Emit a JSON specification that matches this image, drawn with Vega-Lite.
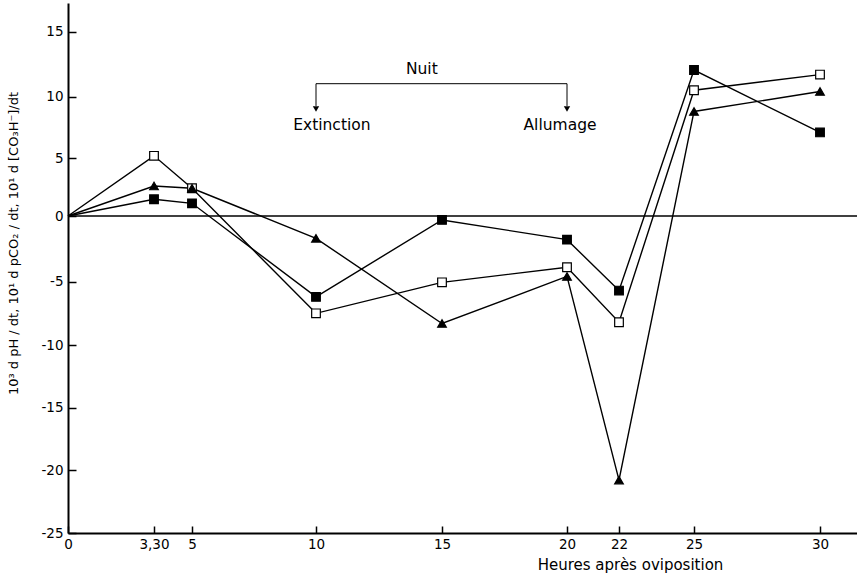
{
  "$schema": "https://vega.github.io/schema/vega-lite/v6.json",
  "width": 789,
  "height": 530,
  "autosize": {"type": "none"},
  "padding": {"left": 68, "top": 3, "right": 0, "bottom": 43},
  "background": "white",
  "config": {
    "view": {"stroke": null},
    "font": "DejaVu Sans",
    "axis": {
      "grid": false,
      "domainColor": "black",
      "domainWidth": 2,
      "tickColor": "black",
      "tickWidth": 1.5,
      "labelColor": "black",
      "titleColor": "black",
      "labelFont": "DejaVu Sans",
      "titleFont": "DejaVu Sans"
    }
  },
  "datasets": {
    "series": [
      {"serie": "ouvert", "h": 0, "v": 0},
      {"serie": "ouvert", "h": 3.5, "v": 5.2},
      {"serie": "ouvert", "h": 5, "v": 2.4},
      {"serie": "ouvert", "h": 10, "v": -7.5},
      {"serie": "ouvert", "h": 15, "v": -5.05},
      {"serie": "ouvert", "h": 20, "v": -3.9},
      {"serie": "ouvert", "h": 22, "v": -8.2},
      {"serie": "ouvert", "h": 25, "v": 10.5},
      {"serie": "ouvert", "h": 30, "v": 11.7},
      {"serie": "triangle", "h": 0, "v": 0},
      {"serie": "triangle", "h": 3.5, "v": 2.6},
      {"serie": "triangle", "h": 5, "v": 2.4},
      {"serie": "triangle", "h": 10, "v": -1.7},
      {"serie": "triangle", "h": 15, "v": -8.3},
      {"serie": "triangle", "h": 20, "v": -4.6},
      {"serie": "triangle", "h": 22, "v": -20.8},
      {"serie": "triangle", "h": 25, "v": 8.8},
      {"serie": "triangle", "h": 30, "v": 10.4},
      {"serie": "plein", "h": 0, "v": 0},
      {"serie": "plein", "h": 3.5, "v": 1.45},
      {"serie": "plein", "h": 5, "v": 1.1},
      {"serie": "plein", "h": 10, "v": -6.2},
      {"serie": "plein", "h": 15, "v": -0.3},
      {"serie": "plein", "h": 20, "v": -1.8},
      {"serie": "plein", "h": 22, "v": -5.7},
      {"serie": "plein", "h": 25, "v": 12.05},
      {"serie": "plein", "h": 30, "v": 7.1}
    ],
    "zero": [
      {"h": 0, "h2": 31.46, "v": 0, "v2": 0}
    ],
    "bracket": [
      {"h": 10, "h2": 20, "v": 11, "v2": 11},
      {"h": 10, "h2": 10, "v": 11, "v2": 9.25},
      {"h": 20, "h2": 20, "v": 11, "v2": 9.25}
    ],
    "arrows": [
      {"h": 10, "v": 9.0},
      {"h": 20, "v": 9.0}
    ],
    "labels": [
      {"h": 14.2, "v": 12.1, "txt": "Nuit"},
      {"h": 10.63, "v": 7.7, "txt": "Extinction"},
      {"h": 19.72, "v": 7.7, "txt": "Allumage"}
    ]
  },
  "encoding": {
    "x": {
      "field": "h", "type": "quantitative",
      "scale": {"domain": [0, 3.5, 5, 10, 15, 20, 22, 25, 30, 31.46], "range": [0, 86, 124, 248, 374, 499, 551, 626, 752, 789], "nice": false, "zero": false},
      "axis": {
        "title": "Heures après oviposition",
        "values": [0, 3.5, 5, 10, 15, 20, 22, 25, 30],
        "labelExpr": "datum.value == 3.5 ? '3,30' : '' + datum.value",
        "tickSize": -7,
        "labelPadding": 11,
        "labelFontSize": 13.5,
        "labelFlush": false,
        "labelOverlap": false,
        "titleFontSize": 15,
        "titleFontWeight": "normal",
        "titleX": 562,
        "titleY": 31,
        "titleBaseline": "middle",
        "titleAlign": "center"
      }
    },
    "y": {
      "field": "v", "type": "quantitative",
      "scale": {"domain": [-25, -20, -15, -10, -5, 0, 5, 10, 15, 17.2], "range": [530, 467, 404.7, 342, 278.7, 213, 155.3, 93.7, 28.7, 0], "nice": false, "zero": false},
      "axis": {
        "title": "10³ d pH / dt, 10¹ d pCO₂ / dt, 10¹ d [CO₃H⁻]/dt",
        "values": [-25, -20, -15, -10, -5, 0, 5, 10, 15],
        "labelExpr": "'' + datum.value",
        "tickSize": -8,
        "labelPadding": 13,
        "labelFontSize": 13.5,
        "labelFlush": false,
        "labelOverlap": false,
        "titleFontSize": 13,
        "titleFontWeight": "normal",
        "titleAngle": -90,
        "titleX": -55,
        "titleY": 240,
        "titleBaseline": "middle",
        "titleAlign": "center"
      }
    }
  },
  "layer": [
    {
      "data": {"name": "zero"},
      "mark": {"type": "rule", "color": "black", "strokeWidth": 1.6},
      "encoding": {
        "x2": {"field": "h2"},
        "y2": {"field": "v2"}
      }
    },
    {
      "data": {"name": "series"},
      "mark": {"type": "line", "color": "black", "strokeWidth": 1.4},
      "encoding": {
        "detail": {"field": "serie", "type": "nominal"},
        "order": {"field": "h", "type": "quantitative"}
      }
    },
    {
      "data": {"name": "series"},
      "transform": [{"filter": "datum.h > 0"}],
      "mark": {"type": "point", "filled": true, "stroke": "black", "strokeWidth": 1.2, "opacity": 1, "size": 75},
      "encoding": {
        "shape": {"field": "serie", "type": "nominal", "scale": {"domain": ["ouvert", "triangle", "plein"], "range": ["square", "triangle-up", "square"]}, "legend": null},
        "fill": {"field": "serie", "type": "nominal", "scale": {"domain": ["ouvert", "triangle", "plein"], "range": ["white", "black", "black"]}, "legend": null},
        "order": {"field": "h", "type": "quantitative"}
      }
    },
    {
      "data": {"name": "bracket"},
      "mark": {"type": "rule", "color": "black", "strokeWidth": 1},
      "encoding": {
        "x2": {"field": "h2"},
        "y2": {"field": "v2"}
      }
    },
    {
      "data": {"name": "arrows"},
      "mark": {"type": "point", "shape": "triangle-down", "filled": true, "color": "black", "opacity": 1, "size": 40},
      "encoding": {}
    },
    {
      "data": {"name": "labels"},
      "mark": {"type": "text", "fontSize": 15.5, "color": "black", "align": "center", "baseline": "middle", "font": "DejaVu Sans"},
      "encoding": {
        "text": {"field": "txt", "type": "nominal"}
      }
    }
  ]
}
